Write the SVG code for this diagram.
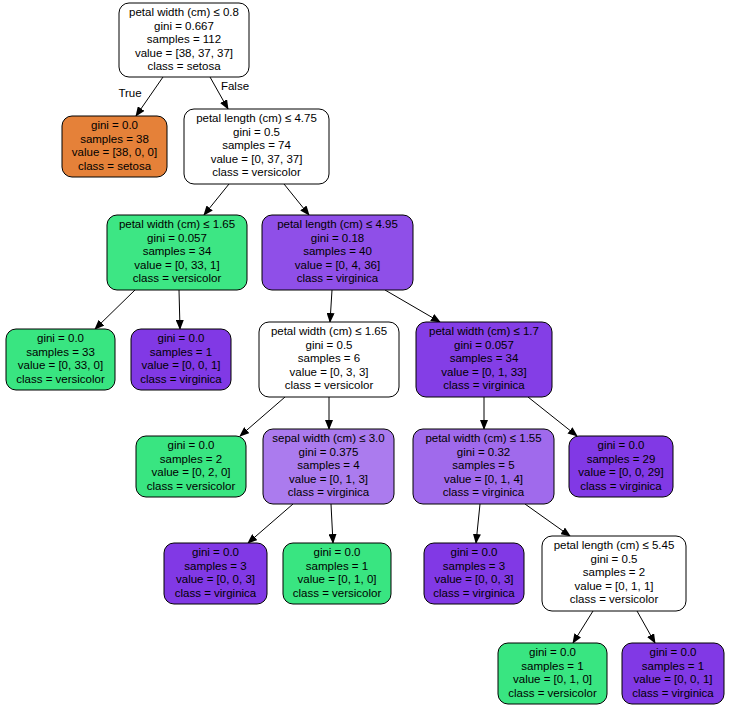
<svg xmlns="http://www.w3.org/2000/svg" width="735" height="726" viewBox="0 0 735 726">
<style>
.n{stroke:#000;stroke-width:1}
text{font-family:"Liberation Sans",Arial,sans-serif;font-size:11.5px;text-anchor:middle;fill:#000}
.e{stroke:#000;stroke-width:1;fill:none;marker-end:url(#a)}
.w{fill:#fff}.o{fill:#e58139}.g{fill:#39e581}.p{fill:#8139e5}
</style>
<defs><marker id="a" markerWidth="10" markerHeight="8" refX="9" refY="4" orient="auto" markerUnits="userSpaceOnUse"><path d="M0,0L10,4L0,8z" fill="#000"/></marker></defs>
<rect width="735" height="726" fill="#fff"/>
<g id="edges">
<path class="e" d="M163,77L136,116"/><path class="e" d="M210,77L228,109"/>
<path class="e" d="M229,184L204,215"/><path class="e" d="M284,184L309,215"/>
<path class="e" d="M135,290L95,329"/><path class="e" d="M179,290L180,329"/>
<path class="e" d="M332,290L330,322"/><path class="e" d="M385,290L440,322"/>
<path class="e" d="M285,397L240,436"/><path class="e" d="M329,397L329,429"/>
<path class="e" d="M484,397L484,429"/><path class="e" d="M528,397L577,436"/>
<path class="e" d="M293,504L248,543"/><path class="e" d="M331,504L333,543"/>
<path class="e" d="M480,504L476,543"/><path class="e" d="M525,504L570,536"/>
<path class="e" d="M593,611L573,643"/><path class="e" d="M637,611L655,643"/>
<text x="130" y="97">True</text><text x="235" y="90">False</text>
</g>
<g id="n0"><rect class="n w" x="119" y="3" width="130" height="74" rx="10"/><text x="184" y="16">petal width (cm) ≤ 0.8</text><text x="184" y="30">gini = 0.667</text><text x="184" y="43">samples = 112</text><text x="184" y="57">value = [38, 37, 37]</text><text x="184" y="70">class = setosa</text></g>
<g id="n1"><rect class="n o" x="62" y="116" width="105" height="61" rx="10"/><text x="114.5" y="129">gini = 0.0</text><text x="114.5" y="143">samples = 38</text><text x="114.5" y="156">value = [38, 0, 0]</text><text x="114.5" y="170">class = setosa</text></g>
<g id="n2"><rect class="n w" x="184" y="109" width="145" height="75" rx="10"/><text x="256.5" y="122">petal length (cm) ≤ 4.75</text><text x="256.5" y="136">gini = 0.5</text><text x="256.5" y="149">samples = 74</text><text x="256.5" y="163">value = [0, 37, 37]</text><text x="256.5" y="176">class = versicolor</text></g>
<g id="n3"><rect class="n" fill="#3de684" x="107" y="215" width="140" height="75" rx="10"/><text x="177" y="228">petal width (cm) ≤ 1.65</text><text x="177" y="242">gini = 0.057</text><text x="177" y="255">samples = 34</text><text x="177" y="269">value = [0, 33, 1]</text><text x="177" y="282">class = versicolor</text></g>
<g id="n4"><rect class="n" fill="#8f4fe8" x="262" y="215" width="151" height="75" rx="10"/><text x="337.5" y="228">petal length (cm) ≤ 4.95</text><text x="337.5" y="242">gini = 0.18</text><text x="337.5" y="255">samples = 40</text><text x="337.5" y="269">value = [0, 4, 36]</text><text x="337.5" y="282">class = virginica</text></g>
<g id="n5"><rect class="n g" x="6" y="329" width="109" height="61" rx="10"/><text x="60.5" y="342">gini = 0.0</text><text x="60.5" y="356">samples = 33</text><text x="60.5" y="369">value = [0, 33, 0]</text><text x="60.5" y="383">class = versicolor</text></g>
<g id="n6"><rect class="n p" x="131" y="329" width="100" height="61" rx="10"/><text x="181" y="342">gini = 0.0</text><text x="181" y="356">samples = 1</text><text x="181" y="369">value = [0, 0, 1]</text><text x="181" y="383">class = virginica</text></g>
<g id="n7"><rect class="n w" x="259" y="322" width="140" height="75" rx="10"/><text x="329" y="335">petal width (cm) ≤ 1.65</text><text x="329" y="349">gini = 0.5</text><text x="329" y="362">samples = 6</text><text x="329" y="376">value = [0, 3, 3]</text><text x="329" y="389">class = versicolor</text></g>
<g id="n8"><rect class="n" fill="#843ee6" x="416" y="322" width="136" height="75" rx="10"/><text x="484" y="335">petal width (cm) ≤ 1.7</text><text x="484" y="349">gini = 0.057</text><text x="484" y="362">samples = 34</text><text x="484" y="376">value = [0, 1, 33]</text><text x="484" y="389">class = virginica</text></g>
<g id="n9"><rect class="n g" x="136" y="436" width="110" height="61" rx="10"/><text x="191" y="449">gini = 0.0</text><text x="191" y="463">samples = 2</text><text x="191" y="476">value = [0, 2, 0]</text><text x="191" y="490">class = versicolor</text></g>
<g id="n10"><rect class="n" fill="#ab7bee" x="263" y="429" width="131" height="75" rx="10"/><text x="328.5" y="442">sepal width (cm) ≤ 3.0</text><text x="328.5" y="456">gini = 0.375</text><text x="328.5" y="469">samples = 4</text><text x="328.5" y="483">value = [0, 1, 3]</text><text x="328.5" y="496">class = virginica</text></g>
<g id="n11"><rect class="n" fill="#a06aec" x="413" y="429" width="141" height="75" rx="10"/><text x="483.5" y="442">petal width (cm) ≤ 1.55</text><text x="483.5" y="456">gini = 0.32</text><text x="483.5" y="469">samples = 5</text><text x="483.5" y="483">value = [0, 1, 4]</text><text x="483.5" y="496">class = virginica</text></g>
<g id="n12"><rect class="n p" x="569" y="436" width="104" height="61" rx="10"/><text x="621" y="449">gini = 0.0</text><text x="621" y="463">samples = 29</text><text x="621" y="476">value = [0, 0, 29]</text><text x="621" y="490">class = virginica</text></g>
<g id="n13"><rect class="n p" x="164" y="543" width="103" height="61" rx="10"/><text x="215.5" y="556">gini = 0.0</text><text x="215.5" y="570">samples = 3</text><text x="215.5" y="583">value = [0, 0, 3]</text><text x="215.5" y="597">class = virginica</text></g>
<g id="n14"><rect class="n g" x="283" y="543" width="108" height="61" rx="10"/><text x="337" y="556">gini = 0.0</text><text x="337" y="570">samples = 1</text><text x="337" y="583">value = [0, 1, 0]</text><text x="337" y="597">class = versicolor</text></g>
<g id="n15"><rect class="n p" x="424" y="543" width="100" height="61" rx="10"/><text x="474" y="556">gini = 0.0</text><text x="474" y="570">samples = 3</text><text x="474" y="583">value = [0, 0, 3]</text><text x="474" y="597">class = virginica</text></g>
<g id="n16"><rect class="n w" x="542" y="536" width="144" height="75" rx="10"/><text x="614" y="549">petal length (cm) ≤ 5.45</text><text x="614" y="563">gini = 0.5</text><text x="614" y="576">samples = 2</text><text x="614" y="590">value = [0, 1, 1]</text><text x="614" y="603">class = versicolor</text></g>
<g id="n17"><rect class="n g" x="498" y="643" width="109" height="61" rx="10"/><text x="552.5" y="656">gini = 0.0</text><text x="552.5" y="670">samples = 1</text><text x="552.5" y="683">value = [0, 1, 0]</text><text x="552.5" y="697">class = versicolor</text></g>
<g id="n18"><rect class="n p" x="622" y="643" width="102" height="61" rx="10"/><text x="673" y="656">gini = 0.0</text><text x="673" y="670">samples = 1</text><text x="673" y="683">value = [0, 0, 1]</text><text x="673" y="697">class = virginica</text></g>
</svg>
